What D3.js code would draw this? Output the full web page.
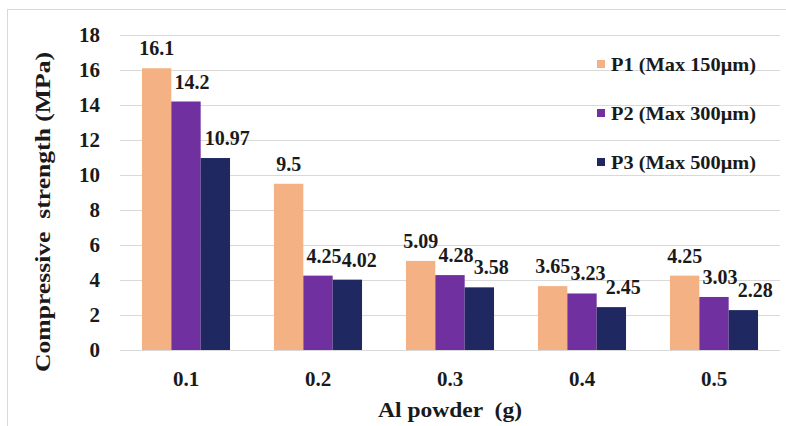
<!DOCTYPE html>
<html>
<head>
<meta charset="utf-8">
<script src="https://cdn.jsdelivr.net/npm/d3@7"></script>
<style>
  html, body { margin: 0; padding: 0; background: #fff; }
  svg { display: block; }
</style>
</head>
<body>
<svg id="chart" width="786" height="426"></svg>
<script>
const categories = ["0.1", "0.2", "0.3", "0.4", "0.5"];
const seriesNames = ["P1 (Max 150μm)", "P2 (Max 300μm)", "P3 (Max 500μm)"];
const p1Values = [16.1, 9.5, 5.09, 3.65, 4.25];
const p2Values = [14.2, 4.25, 4.28, 3.23, 3.03];
const p3Values = [10.97, 4.02, 3.58, 2.45, 2.28];
const yTicks = [0, 2, 4, 6, 8, 10, 12, 14, 16, 18];
const seriesColors = ["#F4B183", "#7030A0", "#1F2860"];

const FONT = "'Liberation Serif', 'Times New Roman', Times, serif";
const seriesValues = [p1Values, p2Values, p3Values];
const labelShiftX = [0, 6, 12];
const svg = d3.select("#chart");

// chart frame
svg.append("rect").attr("x", 7.5).attr("y", 9.5).attr("width", 800).attr("height", 430)
  .attr("fill", "none").attr("stroke", "#d9d9d9").attr("stroke-width", 1);

const plot = { left: 120, right: 780, top: 35, bottom: 350 };

const x0 = d3.scaleBand().domain(categories).range([plot.left, plot.right]).paddingInner(0.333).paddingOuter(0.1665);
const x1 = d3.scaleBand().domain(d3.range(seriesNames.length)).range([0, x0.bandwidth()]).padding(0);
const y = d3.scaleLinear().domain([0, 18]).range([plot.bottom, plot.top]);

// gridlines
svg.append("g").selectAll("line").data(yTicks).join("line")
  .attr("x1", plot.left).attr("x2", plot.right)
  .attr("y1", d => Math.round(y(d)) + 0.5).attr("y2", d => Math.round(y(d)) + 0.5)
  .attr("stroke", "#d9d9d9").attr("stroke-width", 1.2);

function styleText(sel, size) {
  sel.style("font-family", FONT).style("font-weight", "bold").style("font-size", size + "px").style("fill", "#1a1a1a");
}

// y axis labels
const yAxis = d3.axisLeft(y).tickValues(yTicks).tickSize(0).tickPadding(0);
const yg = svg.append("g").attr("transform", `translate(${plot.left - 20},0)`).call(yAxis);
yg.select(".domain").remove();
yg.selectAll("text").call(styleText, 21).attr("dy", "0.33em");

// x axis labels
const xAxis = d3.axisBottom(x0).tickSize(0).tickPadding(0);
const xg = svg.append("g").attr("transform", `translate(0,${plot.bottom + 21})`).call(xAxis);
xg.select(".domain").remove();
xg.selectAll("text").call(styleText, 21).attr("dy", "0.71em");

// bars
const groups = svg.append("g").selectAll("g").data(categories).join("g")
  .attr("transform", d => `translate(${x0(d)},0)`);

groups.selectAll("rect").data((c, i) => seriesValues.map((vals, s) => ({ s, v: vals[i] }))).join("rect")
  .attr("x", d => x1(d.s))
  .attr("width", x1.bandwidth())
  .attr("y", d => y(d.v))
  .attr("height", d => y(0) - y(d.v))
  .attr("fill", d => seriesColors[d.s]);

groups.selectAll("text.lbl").data((c, i) => seriesValues.map((vals, s) => ({ s, v: vals[i] }))).join("text")
  .attr("class", "lbl")
  .attr("x", d => x1(d.s) + x1.bandwidth() / 2 + labelShiftX[d.s])
  .attr("y", d => y(d.v) - 13)
  .attr("text-anchor", "middle")
  .call(styleText, 20)
  .text(d => String(d.v));

// legend
const legend = svg.append("g").selectAll("g").data(seriesNames).join("g")
  .attr("transform", (d, i) => `translate(597,${64 + i * 49})`);
legend.append("rect").attr("x", 0).attr("y", -4).attr("width", 8).attr("height", 8)
  .attr("fill", (d, i) => seriesColors[i]);
legend.append("text").attr("x", 14).attr("y", 0).attr("dy", "0.35em")
  .call(styleText, 19).attr("textLength", 145).attr("lengthAdjust", "spacingAndGlyphs").text(d => d);

// axis titles
svg.append("text").attr("transform", "translate(50,212) rotate(-90)")
  .attr("text-anchor", "middle").call(styleText, 21).style("white-space", "pre")
  .attr("textLength", 320).attr("lengthAdjust", "spacingAndGlyphs")
  .text("Compressive  strength (MPa)");
svg.append("text").attr("x", 450).attr("y", 417)
  .attr("text-anchor", "middle").call(styleText, 21).style("white-space", "pre")
  .attr("textLength", 144).attr("lengthAdjust", "spacingAndGlyphs")
  .text("Al powder  (g)");
</script>
</body>
</html>
